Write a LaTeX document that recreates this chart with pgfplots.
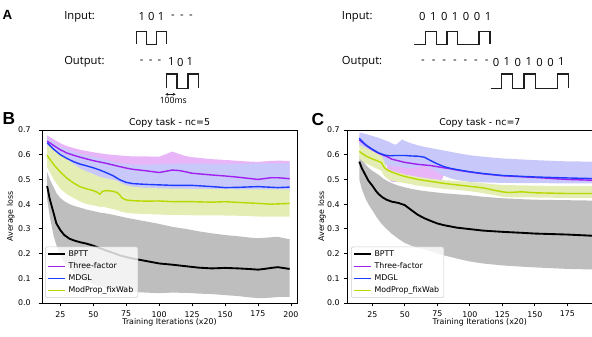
\documentclass[border=0pt]{standalone}
\usepackage{fontspec}
\setmainfont{DejaVu Sans}
\newfontfamily\osans{Open Sans}
\newfontfamily\lsans{Liberation Sans}
\usepackage{pgfplots}
\usepackage{pgfplotstable}
\pgfplotsset{compat=1.18}
\usepgfplotslibrary{fillbetween}
\usetikzlibrary{arrows.meta}

\definecolor{cpur}{RGB}{160,32,240}
\definecolor{cblu}{RGB}{30,60,255}
\definecolor{cyel}{RGB}{185,215,0}
\definecolor{fgry}{RGB}{190,190,190}
\definecolor{fpur}{RGB}{232,182,248}
\definecolor{fblu}{RGB}{200,200,250}
\definecolor{fyel}{RGB}{228,238,180}
\definecolor{wave}{RGB}{30,30,30}

\newcommand\tk{\fontsize{5.9}{7}\selectfont}
\newcommand\ttl{\fontsize{7.05}{8.5}\selectfont}
\newcommand\af{\osans\fontsize{8.4}{10}\selectfont}
\newcommand\lett[1]{\lsans\bfseries\fontsize{#1}{#1}\selectfont}

% nc=5 : x, mean, lower, upper
\pgfplotstableread{
x m lo hi
15 0.473 0.42 0.53
17 0.42 0.35 0.50
20 0.362 0.27 0.468
22 0.322 0.235 0.445
25 0.295 0.195 0.425
28 0.275 0.165 0.412
32 0.26 0.14 0.4
36 0.252 0.12 0.392
40 0.246 0.105 0.386
45 0.24 0.09 0.378
50 0.232 0.075 0.372
55 0.222 0.068 0.366
60 0.212 0.06 0.362
65 0.203 0.056 0.357
70 0.193 0.052 0.351
75 0.186 0.047 0.345
80 0.18 0.045 0.34
90 0.17 0.042 0.33
100 0.16 0.04 0.32
110 0.155 0.042 0.308
120 0.149 0.041 0.3
125 0.146 0.04 0.295
130 0.143 0.038 0.29
140 0.14 0.036 0.282
150 0.142 0.032 0.275
160 0.14 0.028 0.27
170 0.137 0.022 0.264
175 0.135 0.02 0.262
180 0.138 0.02 0.264
185 0.142 0.022 0.266
190 0.145 0.024 0.268
195 0.141 0.025 0.262
199 0.138 0.025 0.258
}\bpA
\pgfplotstableread{
x m lo hi
15 0.655 0.635 0.678
20 0.637 0.61 0.662
25 0.62 0.59 0.647
30 0.607 0.575 0.635
35 0.598 0.565 0.627
40 0.59 0.555 0.62
50 0.576 0.54 0.61
60 0.565 0.53 0.602
70 0.552 0.52 0.597
75 0.546 0.515 0.595
80 0.541 0.51 0.593
90 0.535 0.5 0.593
100 0.528 0.495 0.592
105 0.533 0.5 0.602
110 0.538 0.505 0.613
115 0.536 0.5 0.603
120 0.531 0.495 0.595
125 0.525 0.49 0.59
140 0.518 0.485 0.582
150 0.514 0.48 0.579
160 0.509 0.475 0.575
170 0.503 0.47 0.572
175 0.5 0.468 0.571
185 0.507 0.47 0.575
190 0.507 0.47 0.576
199 0.503 0.468 0.575
}\tfA
\pgfplotstableread{
x m lo hi
15 0.648 0.625 0.668
20 0.622 0.595 0.65
25 0.6 0.57 0.635
30 0.585 0.555 0.622
35 0.572 0.54 0.612
40 0.562 0.53 0.604
45 0.555 0.52 0.598
50 0.547 0.51 0.592
55 0.538 0.5 0.585
60 0.527 0.49 0.578
65 0.515 0.48 0.572
70 0.499 0.47 0.566
75 0.488 0.462 0.562
80 0.483 0.46 0.56
90 0.48 0.458 0.56
100 0.478 0.458 0.561
110 0.476 0.456 0.563
125 0.476 0.455 0.564
140 0.471 0.452 0.563
150 0.467 0.45 0.562
160 0.468 0.45 0.563
175 0.471 0.452 0.565
190 0.467 0.45 0.565
199 0.469 0.45 0.565
}\mdA
\pgfplotstableread{
x m lo hi
15 0.597 0.55 0.64
20 0.56 0.5 0.62
25 0.53 0.462 0.6
30 0.505 0.44 0.582
35 0.486 0.425 0.562
40 0.47 0.41 0.545
45 0.462 0.4 0.532
50 0.455 0.395 0.522
53 0.448 0.392 0.515
55 0.44 0.388 0.51
57 0.452 0.39 0.508
60 0.455 0.386 0.504
65 0.452 0.38 0.498
68 0.447 0.376 0.494
70 0.438 0.372 0.488
72 0.424 0.368 0.482
75 0.417 0.365 0.476
80 0.414 0.362 0.47
90 0.412 0.36 0.466
100 0.413 0.358 0.464
110 0.41 0.356 0.463
125 0.41 0.355 0.462
140 0.408 0.355 0.461
150 0.41 0.354 0.461
160 0.407 0.353 0.46
175 0.403 0.35 0.46
185 0.4 0.35 0.46
199 0.403 0.35 0.46
}\mpA

% nc=7
\pgfplotstableread{
x m lo hi
15 0.572 0.5 0.6
17 0.545 0.46 0.58
20 0.515 0.42 0.56
22 0.495 0.4 0.548
25 0.475 0.375 0.535
28 0.452 0.35 0.525
30 0.44 0.335 0.518
33 0.427 0.315 0.505
36 0.418 0.3 0.495
40 0.41 0.28 0.485
45 0.405 0.26 0.475
50 0.396 0.243 0.468
55 0.376 0.232 0.462
60 0.357 0.224 0.457
65 0.343 0.217 0.453
70 0.332 0.21 0.45
75 0.322 0.2 0.447
80 0.315 0.193 0.444
90 0.305 0.18 0.44
100 0.299 0.168 0.436
110 0.293 0.16 0.43
125 0.288 0.152 0.424
140 0.284 0.147 0.42
150 0.281 0.144 0.418
175 0.277 0.138 0.416
199 0.271 0.135 0.414
}\bpB
\pgfplotstableread{
x m lo hi
15 0.66 0.645 0.678
20 0.638 0.615 0.665
25 0.62 0.595 0.655
30 0.605 0.58 0.645
35 0.595 0.562 0.638
36 0.593 0.56 0.637
38 0.588 0.5 0.635
40 0.582 0.49 0.632
50 0.569 0.49 0.618
60 0.561 0.49 0.607
70 0.556 0.49 0.6
78 0.549 0.49 0.595
80 0.547 0.518 0.593
85 0.543 0.508 0.589
90 0.538 0.501 0.585
100 0.53 0.493 0.575
110 0.523 0.49 0.568
125 0.515 0.489 0.56
150 0.508 0.488 0.553
175 0.5 0.487 0.548
199 0.496 0.487 0.545
}\tfB
\pgfplotstableread{
x m lo hi
15 0.666 0.635 0.69
20 0.64 0.6 0.684
25 0.622 0.578 0.676
30 0.607 0.565 0.668
35 0.598 0.558 0.658
38 0.596 0.556 0.652
40 0.596 0.555 0.646
43 0.597 0.553 0.64
45 0.597 0.553 0.648
48 0.597 0.55 0.662
50 0.597 0.547 0.656
55 0.595 0.545 0.646
60 0.594 0.55 0.638
65 0.59 0.555 0.632
70 0.576 0.545 0.627
75 0.563 0.53 0.622
80 0.552 0.515 0.617
85 0.545 0.505 0.612
90 0.54 0.498 0.607
100 0.531 0.49 0.598
110 0.524 0.488 0.592
125 0.516 0.486 0.585
150 0.51 0.485 0.578
175 0.506 0.484 0.573
199 0.503 0.484 0.572
}\mdB
\pgfplotstableread{
x m lo hi
15 0.613 0.585 0.64
20 0.595 0.565 0.627
25 0.583 0.552 0.615
30 0.573 0.54 0.605
32 0.568 0.535 0.598
34 0.55 0.515 0.575
36 0.54 0.505 0.545
40 0.53 0.495 0.535
45 0.52 0.49 0.527
50 0.512 0.485 0.52
60 0.5 0.475 0.51
70 0.492 0.468 0.503
75 0.488 0.465 0.5
80 0.484 0.462 0.497
90 0.478 0.458 0.494
100 0.472 0.452 0.49
110 0.466 0.445 0.485
120 0.455 0.435 0.48
125 0.45 0.43 0.478
130 0.447 0.428 0.477
140 0.45 0.427 0.476
150 0.446 0.427 0.475
175 0.443 0.425 0.473
199 0.443 0.425 0.473
}\mpB

\newcommand\band[3]{%
  \addplot[draw=none, name path=#3u, forget plot] table[x=x,y=hi]{#1};
  \addplot[draw=none, name path=#3l, forget plot] table[x=x,y=lo]{#1};
  \addplot[fill=#2, draw=none, forget plot] fill between[of=#3u and #3l];
}

\pgfplotsset{
  panel/.style={
    scale only axis, height=129.75pt,
    ymin=0, ymax=0.7,
    ytick={0,0.1,0.2,0.3,0.4,0.5,0.6,0.7},
    tick align=outside, tick pos=left,
    major tick length=2.6pt,
    axis line style={line width=0.6pt},
    every tick/.append style={line width=0.6pt, black},
    /pgf/number format/assume math mode=true,
    ticklabel style={font=\tk},
    y tick label style={/pgf/number format/.cd, fixed, fixed zerofill, precision=1, /tikz/.cd},
    every axis title shift=0pt,
    title style={font=\ttl, at={(axis description cs:0.5,1)}, anchor=base, yshift=3.7pt},
    xlabel={Training Iterations (x20)},
    ylabel={Average loss},
    label style={font=\tk},
    xlabel style={at={(axis description cs:0.5,0)}, anchor=base, yshift=-16.4pt},
    legend cell align=left,
    legend style={draw=black!20, rounded corners=1.5pt, fill=white,
      fill opacity=0.8, text opacity=1, draw opacity=1, font=\tk,
      anchor=south west, inner xsep=1.5pt, inner ysep=1pt,
      nodes={inner ysep=1.5pt, text height=4.6pt, text depth=1.4pt}},
    legend image code/.code={\draw[##1] (0pt,0pt) -- (12.5pt,0pt);},
  },
  bpl/.style={black, line width=1.4pt},
  tfl/.style={cpur, line width=1.05pt},
  mdl/.style={cblu, line width=1.05pt},
  mpl/.style={cyel, line width=1.05pt},
}

\begin{document}
\begin{tikzpicture}

% panel A and letters
\begin{axis}[at={(0,0)}, anchor=south west, scale only axis,
  width=444pt, height=252pt, xmin=0, xmax=592, ymin=0, ymax=336,
  y dir=reverse, hide axis, clip=false]
  \addplot[wave, line width=0.8pt] coordinates {(136.7,44.3) (136.7,31.7) (146.7,31.7) (146.7,44.3) (156.7,44.3) (156.7,31.7) (166.7,31.7) (166.7,44.3)};
  \addplot[wave, line width=0.8pt] coordinates {(166.7,88.3) (166.7,74) (177,74) (177,88.3) (188,88.3) (188,74) (198.5,74) (198.5,88.3)};
  \addplot[wave, line width=0.8pt] coordinates {(414.3,44.3) (425.5,44.3) (425.5,31.7) (436.5,31.7) (436.5,44.3) (447,44.3) (447,31.7) (457.5,31.7) (457.5,44.3) (479,44.3) (479,31.7) (490,31.7) (490,44.3)};
  \addplot[wave, line width=0.8pt] coordinates {(490.7,88.3) (501.8,88.3) (501.8,74) (512.9,74) (512.9,88.3) (524,88.3) (524,74) (535.1,74) (535.1,88.3) (557.3,88.3) (557.3,74) (568.4,74) (568.4,88.3)};

  \node[font=\lett{10}, anchor=center] at (7.5,15) {A};
  \node[font=\lett{13}, anchor=center] at (9,119) {B};
  \node[font=\lett{13}, anchor=center] at (318,120) {C};

  \node[font=\af, anchor=west, inner sep=0] at (64,16.7) {Input:};
  \node[font=\af, anchor=west, inner sep=0] at (64,62) {Output:};
  \node[font=\af, anchor=west, inner sep=0] at (341.7,16.7) {Input:};
  \node[font=\af, anchor=west, inner sep=0] at (341.7,62) {Output:};

  \node[font=\af, inner sep=0] at (141.7,16.5) {1};
  \node[font=\af, inner sep=0] at (151.3,16.5) {0};
  \node[font=\af, inner sep=0] at (161,16.5) {1};
  \node[font=\af, inner sep=0] at (173,16.5) {-};
  \node[font=\af, inner sep=0] at (182,16.5) {-};
  \node[font=\af, inner sep=0] at (191,16.5) {-};

  \node[font=\af, inner sep=0] at (141.7,62) {-};
  \node[font=\af, inner sep=0] at (150.7,62) {-};
  \node[font=\af, inner sep=0] at (159.5,62) {-};
  \node[font=\af, inner sep=0] at (171.3,62) {1};
  \node[font=\af, inner sep=0] at (180.3,62) {0};
  \node[font=\af, inner sep=0] at (189.7,62) {1};

  \node[font=\af, inner sep=0] at (422.3,16.5) {0};
  \node[font=\af, inner sep=0] at (433.2,16.5) {1};
  \node[font=\af, inner sep=0] at (444.2,16.5) {0};
  \node[font=\af, inner sep=0] at (455.1,16.5) {1};
  \node[font=\af, inner sep=0] at (466.1,16.5) {0};
  \node[font=\af, inner sep=0] at (477,16.5) {0};
  \node[font=\af, inner sep=0] at (488,16.5) {1};

  \node[font=\af, inner sep=0] at (423,62) {-};
  \node[font=\af, inner sep=0] at (433.6,62) {-};
  \node[font=\af, inner sep=0] at (444.2,62) {-};
  \node[font=\af, inner sep=0] at (454.8,62) {-};
  \node[font=\af, inner sep=0] at (465.4,62) {-};
  \node[font=\af, inner sep=0] at (476,62) {-};
  \node[font=\af, inner sep=0] at (486.6,62) {-};
  \node[font=\af, inner sep=0] at (496,62) {0};
  \node[font=\af, inner sep=0] at (506.9,62) {1};
  \node[font=\af, inner sep=0] at (517.8,62) {0};
  \node[font=\af, inner sep=0] at (528.7,62) {1};
  \node[font=\af, inner sep=0] at (539.6,62) {0};
  \node[font=\af, inner sep=0] at (550.5,62) {0};
  \node[font=\af, inner sep=0] at (561.4,62) {1};

  \draw[wave, line width=0.5pt, {Stealth[length=2.2pt,width=2.2pt]}-{Stealth[length=2.2pt,width=2.2pt]}] (165.3,94.3) -- (175.7,94.3);
  \node[font=\osans\fontsize{6.5}{7}\selectfont, inner sep=0] at (173.3,100.5) {100ms};
\end{axis}

% panel B
\begin{axis}[panel, at={(31.5pt,24.75pt)}, anchor=south west,
  width=191.25pt, xmin=11.1, xmax=204.6,
  xtick={25,50,75,100,125,150,175,200},
  title={Copy task - nc=5},
  y tick label style={xshift=-2.4pt},
  ylabel style={at={(axis description cs:-0.1227,0.5)}, anchor=center},
  legend style={at={(0.012,0.03)}}]
  \band{\bpA}{fgry}{a1}
  \band{\tfA}{fpur}{a2}
  \band{\mdA}{fblu}{a3}
  \band{\mpA}{fyel}{a4}
  \addplot[bpl] table[x=x,y=m]{\bpA}; \addlegendentry{BPTT}
  \addplot[tfl] table[x=x,y=m]{\tfA}; \addlegendentry{Three-factor}
  \addplot[mdl] table[x=x,y=m]{\mdA}; \addlegendentry{MDGL}
  \addplot[mpl] table[x=x,y=m]{\mpA}; \addlegendentry{ModProp\_fixWab}
\end{axis}

% panel C (cut at the right edge of the figure)
\begin{axis}[panel, at={(260.8pt,24.75pt)}, anchor=south west,
  width=198.2pt, xmin=6.1, xmax=209.4,
  xtick={25,50,75,100,125,150,175},
  title={Copy task - nc=7},
  ylabel style={at={(axis description cs:-0.0972,0.5)}, anchor=center},
  legend style={at={(0.0125,0.03)}}]
  \band{\bpB}{fgry}{b1}
  \band{\tfB}{fpur}{b2}
  \band{\mdB}{fblu}{b3}
  \band{\mpB}{fyel}{b4}
  \addplot[bpl] table[x=x,y=m]{\bpB}; \addlegendentry{BPTT}
  \addplot[tfl] table[x=x,y=m]{\tfB}; \addlegendentry{Three-factor}
  \addplot[mdl] table[x=x,y=m]{\mdB}; \addlegendentry{MDGL}
  \addplot[mpl] table[x=x,y=m]{\mpB}; \addlegendentry{ModProp\_fixWab}
\end{axis}

\pgfresetboundingbox
\path[use as bounding box] (0,0) rectangle (444pt,252pt);
\end{tikzpicture}
\end{document}
